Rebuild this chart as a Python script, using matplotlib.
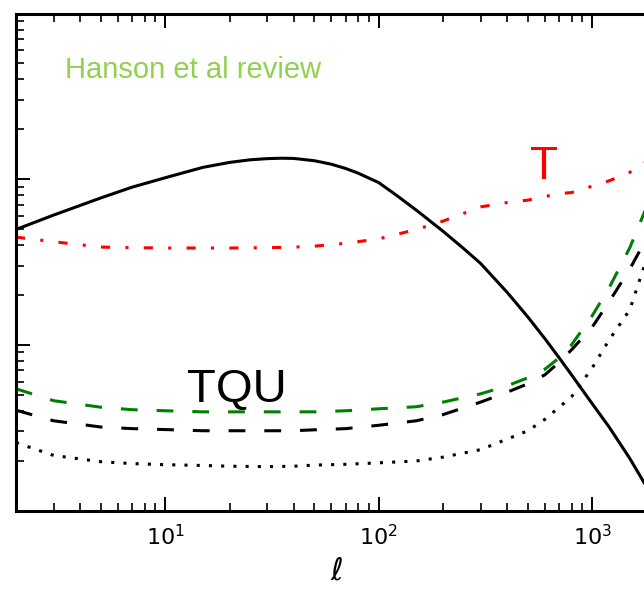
import numpy as np
import matplotlib
matplotlib.use("Agg")
import matplotlib.pyplot as plt

# lensing potential spectrum (solid black)
ell_phi = [2, 3, 5, 7, 10, 15, 20, 25, 30, 35, 40, 50, 60, 70, 80, 100, 120,
           150, 200, 250, 300, 400, 500, 600, 700, 800, 1000, 1200, 1500, 2000]
cl_phi = [4.97e-8, 6.07e-8, 7.71e-8, 8.95e-8, 1.02e-7, 1.178e-7, 1.262e-7,
          1.309e-7, 1.330e-7, 1.338e-7, 1.334e-7, 1.292e-7, 1.231e-7,
          1.160e-7, 1.088e-7, 9.53e-8, 8.06e-8, 6.50e-8, 4.85e-8, 3.81e-8,
          3.10e-8, 2.07e-8, 1.47e-8, 1.09e-8, 8.35e-9, 6.59e-9, 4.41e-9,
          3.19e-9, 2.06e-9, 1.10e-9]

# reconstruction noise curves
ell = [2, 3, 5, 7, 10, 15, 20, 30, 40, 50, 70, 100, 150, 200, 300, 400,
       500, 600, 700, 800, 1000, 1200, 1500, 2000]

n0_T = [4.47e-8, 4.19e-8, 3.89e-8, 3.86e-8, 3.84e-8, 3.84e-8, 3.84e-8,
        3.86e-8, 3.89e-8, 3.94e-8, 4.10e-8, 4.36e-8, 4.97e-8, 5.58e-8,
        6.80e-8, 7.23e-8, 7.47e-8, 7.85e-8, 8.18e-8, 8.30e-8, 9.08e-8,
        9.77e-8, 1.10e-7, 1.40e-7]

n0_green = [5.43e-9, 4.60e-9, 4.20e-9, 4.06e-9, 4.00e-9, 3.94e-9, 3.94e-9,
            3.94e-9, 3.94e-9, 3.94e-9, 4.00e-9, 4.11e-9, 4.23e-9, 4.51e-9,
            5.06e-9, 5.66e-9, 6.33e-9, 7.12e-9, 8.35e-9, 1.00e-8, 1.50e-8,
            2.21e-8, 3.86e-8, 9.5e-8]

n0_TQU = [4.03e-9, 3.48e-9, 3.19e-9, 3.12e-9, 3.08e-9, 3.03e-9, 3.03e-9,
          3.03e-9, 3.03e-9, 3.07e-9, 3.12e-9, 3.27e-9, 3.48e-9, 3.79e-9,
          4.51e-9, 5.18e-9, 5.82e-9, 6.59e-9, 7.85e-9, 9.33e-9, 1.28e-8,
          1.82e-8, 2.87e-8, 5.66e-8]

n0_dotted = [2.57e-9, 2.15e-9, 1.97e-9, 1.92e-9, 1.89e-9, 1.87e-9, 1.85e-9,
             1.84e-9, 1.85e-9, 1.88e-9, 1.90e-9, 1.94e-9, 1.99e-9, 2.10e-9,
             2.33e-9, 2.70e-9, 3.03e-9, 3.55e-9, 4.20e-9, 4.86e-9, 7.26e-9,
             1.07e-8, 1.63e-8, 5.0e-8]

fig = plt.figure(figsize=(6.44, 5.89), dpi=100)
ax = fig.add_axes([16 / 644, 78.5 / 589, 640.5 / 644, 497 / 589])

lw = 2.2
ax.plot(ell_phi, cl_phi, color="k", lw=lw)
ax.plot(ell, n0_T, color="r", lw=lw, dashes=(3, 5, 1, 5))
ax.plot(ell, n0_green, color="green", lw=lw, dashes=(5.5, 6.2))
ax.plot(ell, n0_TQU, color="k", lw=lw, dashes=(5.5, 6.2))
ax.plot(ell, n0_dotted, color="k", lw=lw, dashes=(1, 3))

ax.set_xscale("log")
ax.set_yscale("log")
ax.set_xlim(2, 2000)
ax.set_ylim(1e-9, 1e-6)

for s in ax.spines.values():
    s.set_linewidth(2.2)
ax.tick_params(which="both", direction="in", top=True, right=False,
               labelleft=False, labelsize=16, pad=10)
ax.tick_params(which="major", length=10, width=1.4)
ax.tick_params(which="minor", length=5.5, width=1.2)

ax.set_xlabel(r"$\ell$", fontsize=22, labelpad=5)

fig.text(65 / 644, (589 - 78) / 589, "Hanson et al review", color="#92D050",
         fontsize=21, family="Liberation Sans", va="baseline")
fig.text(530 / 644, (589 - 179) / 589, "T", color="red",
         fontsize=33, family="Liberation Sans", va="baseline")
fig.text(187 / 644, (589 - 402) / 589, "TQU", color="black",
         fontsize=34, family="Liberation Sans", va="baseline")

fig.savefig("out.png", dpi=100)
